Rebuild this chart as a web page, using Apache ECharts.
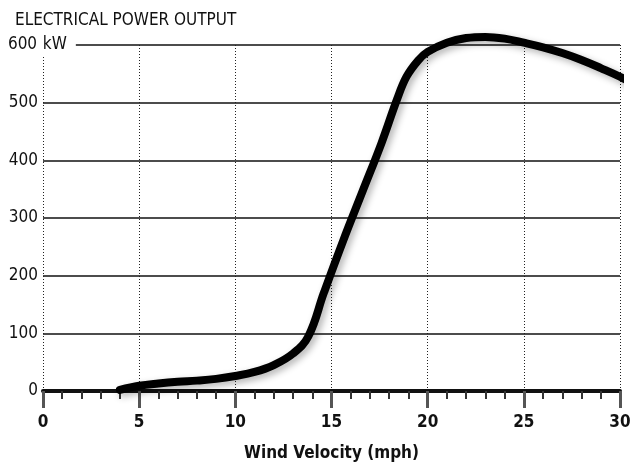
<!DOCTYPE html>
<html>
<head>
<meta charset="utf-8">
<script src="https://cdn.jsdelivr.net/npm/echarts@6/dist/echarts.min.js"></script>
<style>
  html, body { margin: 0; padding: 0; background: #fff; }
  #chart { width: 641px; height: 468px; }
</style>
</head>
<body>
<div id="chart"></div>
<script>
// wind speed (mph) and power output (kW)
const windSpeed = [4, 5, 6, 7, 8, 9, 10, 11, 12, 13, 13.8, 14.6, 15.6, 16.6, 17.6, 18.4, 18.9, 19.5, 20, 21, 22, 23, 24, 25, 26, 27, 28, 29, 30, 30.7]
const powerOut = [2, 9, 13, 16, 18, 21, 26, 33, 45, 65, 95, 170, 260, 345, 430, 505, 545, 573, 588, 604, 612, 614, 611, 604, 596, 586, 574, 560, 545, 532]
const xTicks = [0, 5, 10, 15, 20, 25, 30]
const yTicks = [0, 100, 200, 300, 400, 500, 600]

const font = "'DejaVu Sans Condensed', 'DejaVu Sans', sans-serif"

const chart = echarts.init(document.getElementById('chart'))

chart.setOption({
  animation: false,
  title: {
    text: 'ELECTRICAL POWER OUTPUT',
    left: 10,
    top: 7,
    textStyle: { fontFamily: font, fontSize: 17, fontWeight: 'normal', color: '#111' }
  },
  grid: { left: 43, right: 21, top: 45, bottom: 77, outerBoundsMode: 'none' },
  xAxis: {
    type: 'value',
    min: xTicks[0],
    max: xTicks[xTicks.length - 1],
    interval: 5,
    name: 'Wind Velocity (mph)',
    nameLocation: 'middle',
    nameGap: 54,
    nameTextStyle: { fontFamily: font, fontSize: 17, fontWeight: 'bold', color: '#111' },
    axisLine: { lineStyle: { color: '#111', width: 4 } },
    axisTick: { show: true, length: 17, lineStyle: { color: '#555', width: 3 } },
    minorTick: { show: true, splitNumber: 5, length: 8, lineStyle: { color: '#333', width: 2 } },
    axisLabel: { margin: 23, fontFamily: font, fontSize: 17, fontWeight: 'bold', color: '#111' },
    splitLine: { show: true, lineStyle: { color: '#222', type: [1, 2], width: 1 } }
  },
  yAxis: {
    type: 'value',
    min: yTicks[0],
    max: yTicks[yTicks.length - 1],
    interval: 100,
    axisLine: { show: false },
    axisTick: { show: false },
    axisLabel: {
      align: 'left',
      margin: 36,
      fontFamily: font,
      fontSize: 17,
      color: '#111',
      formatter: v => v === 600 ? '{n|' + v + '}{k| kW}' : '{n|' + v + '}',
      rich: {
        n: { width: 31, align: 'right', fontFamily: font, fontSize: 17, color: '#111' },
        k: { fontFamily: font, fontSize: 17, color: '#111', backgroundColor: '#fff', padding: [3, 9, 3, 0] }
      }
    },
    splitLine: { show: true, lineStyle: { color: '#111', width: 1.5 } }
  },
  series: [{
    type: 'line',
    data: windSpeed.map((x, i) => [x, powerOut[i]]),
    smooth: 0.4,
    clip: false,
    showSymbol: false,
    lineStyle: {
      color: '#000',
      width: 8,
      cap: 'round',
      shadowColor: 'rgba(0,0,0,0.3)',
      shadowBlur: 7,
      shadowOffsetX: 3,
      shadowOffsetY: 3
    },
    z: 5
  }]
})
</script>
</body>
</html>
